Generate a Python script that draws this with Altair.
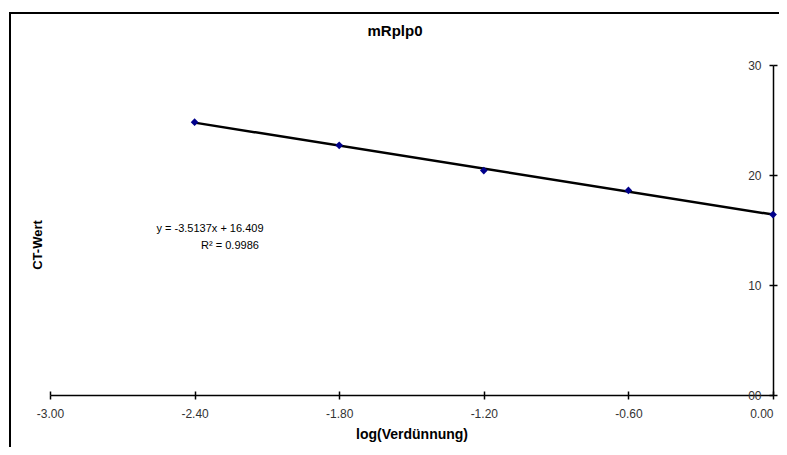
import altair as alt
import pandas as pd

# ---- data ----
x_vals = [-2.4, -1.8, -1.2, -0.6, 0.0]
ct_vals = [24.8, 22.7, 20.4, 18.6, 16.4]
x_ticks = [-3.0, -2.4, -1.8, -1.2, -0.6, 0.0]
y_ticks = [0, 10, 20, 30]
chart_title = "mRplp0"
x_title = "log(Verdünnung)"
y_title = "CT-Wert"
eq_lines = ["y = -3.5137x + 16.409", "R² = 0.9986"]

df = pd.DataFrame({"x": x_vals, "ct": ct_vals})
one = pd.DataFrame({"a": [0]})

W, H = 723, 330
FONT = "Liberation Sans"
LBL = "#333333"

xs = alt.Scale(domain=[-3, 0], nice=False, zero=False)
ys = alt.Scale(domain=[0, 30], nice=False, zero=False)

# main axes (labels, outward ticks)
x_main = alt.Axis(orient="bottom", values=x_ticks, title=x_title,
                  labelExpr="(datum.value < 0 ? '-' : '') + format(abs(datum.value), '.2f')",
                  tickSize=4, tickColor="black", tickWidth=1.5,
                  domainColor="black", domainWidth=1.5, labelFlush=False,
                  labelAlign={"condition": {"test": "datum.value == 0", "value": "right"},
                              "value": "center"},
                  labelFont=FONT, labelFontSize=12, labelColor=LBL, labelPadding=9,
                  titleFont=FONT, titleFontSize=14, titleFontWeight="bold",
                  titleColor="black", titlePadding=8, grid=False)
y_main = alt.Axis(orient="left", offset=-W, values=y_ticks, title=None,
                  labelExpr="datum.value == 0 ? '00' : datum.label",
                  tickSize=4, tickColor="black", tickWidth=1.5,
                  domainColor="black", domainWidth=1.5, labelFlush=False,
                  labelFont=FONT, labelFontSize=12, labelColor=LBL, labelPadding=8,
                  grid=False)
# secondary axes (ticks only, to make crossing tick marks)
x_sec = alt.Axis(orient="top", offset=-H, values=x_ticks, labels=False, domain=False,
                 title=None, tickSize=4, tickColor="black", tickWidth=1.5, grid=False)
y_sec = alt.Axis(orient="right", values=y_ticks, labels=False, domain=False,
                 title=None, tickSize=4, tickColor="black", tickWidth=1.5, grid=False)

trend = alt.Chart(df).transform_regression(
    "x", "ct", extent=[-2.4, 0.0]
).mark_line(color="black", strokeWidth=2.5).encode(
    x=alt.X("x:Q", scale=xs, axis=x_sec),
    y=alt.Y("ct:Q", scale=ys, axis=y_sec),
)

points = alt.Chart(df).mark_point(shape="diamond", filled=True, size=60,
                                  color="#00008B", opacity=1).encode(
    x=alt.X("x:Q", scale=xs, axis=x_main),
    y=alt.Y("ct:Q", scale=ys, axis=y_main),
)

def txt(s, x, y, **kw):
    base = dict(font=FONT, fontSize=11, color="black", align="center", baseline="middle")
    base.update(kw)
    return alt.Chart(one).mark_text(**base).encode(
        x=alt.value(x), y=alt.value(y), text=alt.value(s))

eq1 = txt(eq_lines[0], 160, 164)
eq2 = txt(eq_lines[1], 180, 181)
ytitle = txt(y_title, -12, 180, fontSize=13, fontWeight="bold", angle=270)
title = txt(chart_title, 345, -34, fontSize=15, fontWeight="bold")

# outer chart-area frame (top and left edges; right/bottom lie outside the picture)
frame_top = alt.Chart(one).mark_rule(color="black", strokeWidth=2).encode(
    x=alt.value(-40), x2=alt.value(760), y=alt.value(-52))
frame_left = alt.Chart(one).mark_rule(color="black", strokeWidth=2).encode(
    x=alt.value(-40), y=alt.value(-53), y2=alt.value(420))

chart = alt.layer(frame_top, frame_left, trend, points, eq1, eq2, ytitle, title).resolve_axis(
    x="independent", y="independent"
).properties(
    width=W, height=H,
    background="white",
    autosize=alt.AutoSizeParams(type="none"),
    padding={"left": 42, "top": 57, "right": 6, "bottom": 52},
).configure_view(stroke="transparent", strokeWidth=0)

chart.save("out.html", embed_options={"renderer": "svg", "actions": False})
